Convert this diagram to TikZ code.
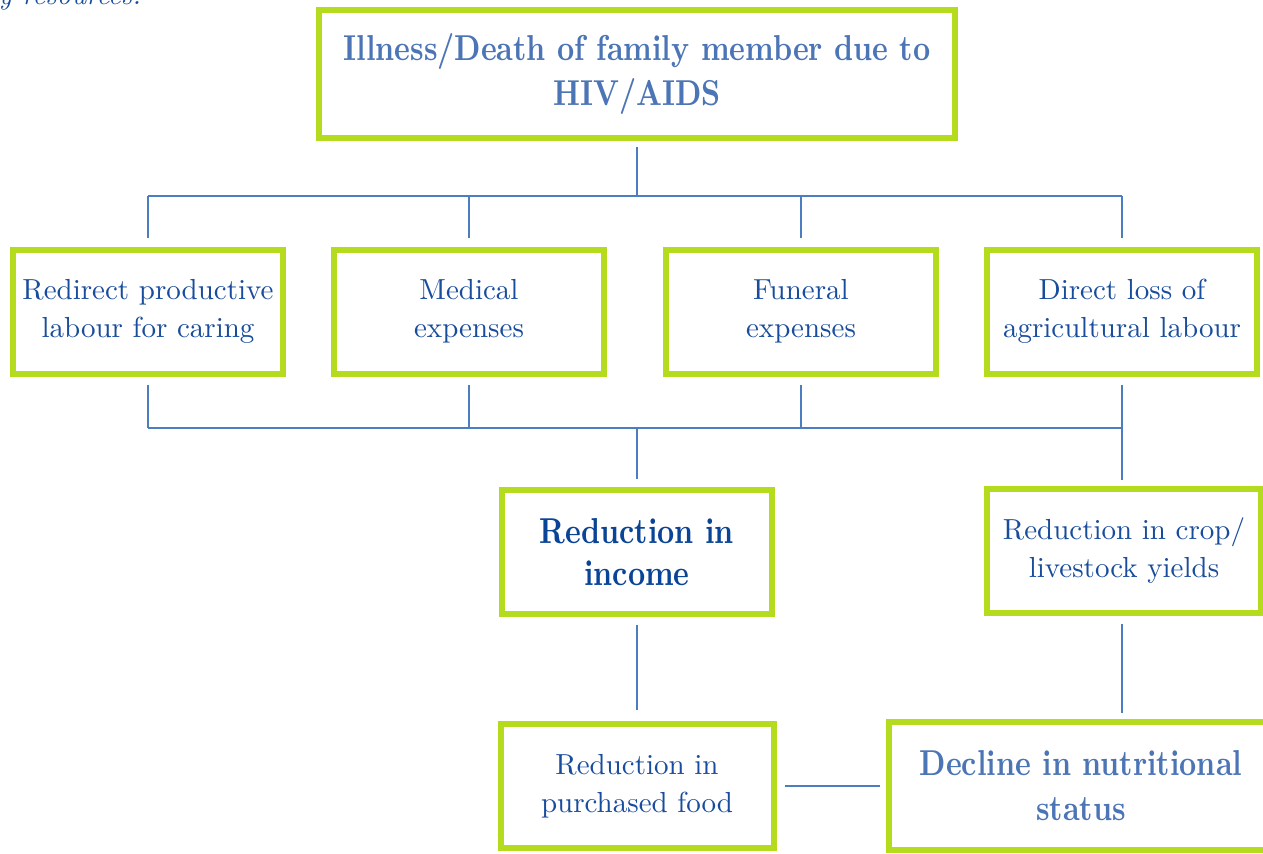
\documentclass[tikz,border=0pt]{standalone}
\usepackage{fontspec}
\setmainfont{lmroman10-regular.otf}[BoldFont=lmroman10-bold.otf, ItalicFont=lmroman10-italic.otf]
\newfontfamily\condbold{lmroman10-bold.otf}[FakeStretch=0.83]
\usepackage{tikz}
\usetikzlibrary{calc, positioning}
\definecolor{limeFrame}{RGB}{181,219,30}
\definecolor{linkBlue}{RGB}{74,126,192}
\definecolor{headBlue}{RGB}{76,117,182}
\definecolor{textBlue}{RGB}{24,76,156}
\definecolor{deepBlue}{RGB}{10,68,150}
\tikzset{
  box/.style={draw=limeFrame, line width=3pt, fill=white, align=center, inner sep=0pt,
    minimum width=135pt, minimum height=62pt, text=textBlue,
    font=\fontsize{14.5}{19}\selectfont},
  bigbox/.style={box, text=headBlue, font=\condbold\fontsize{18}{22.5}\selectfont},
  link/.style={draw=linkBlue, line width=1.1pt},
}

\begin{document}
\begin{tikzpicture}[x=0.5pt, y=-0.5pt]

  \useasboundingbox (0,0) rectangle (1263,853);

  \node[anchor=base west, inner sep=0pt, text=textBlue, font=\itshape\fontsize{14}{17}\selectfont] (note) at (-2,4) {y resources.};

  \node[bigbox, minimum width=318pt, minimum height=64pt] (cause) at (637,74) {Illness/Death of family member due to\\HIV/AIDS};

  \node[box] (care) at (148,311.5) {Redirect productive\\labour for caring};
  \node[box] (medical) at (469,311.5) {Medical\\expenses};
  \node[box] (funeral) at (801,311.5) {Funeral\\expenses};
  \node[box] (loss) at (1122,311.5) {Direct loss of\\agricultural labour};

  \node[bigbox, text=deepBlue, font=\condbold\fontsize{18}{21}\selectfont] (income) at (637,552) {Reduction in\\income};
  \node[box, minimum width=137pt] (crop) at (1124,550.5) {Reduction in crop/\\livestock yields};

  \node[box, minimum width=136.5pt] (purchased) at (637,786) {Reduction in\\purchased food};
  \node[bigbox, minimum width=192pt, minimum height=64pt] (decline) at (1081,786) {Decline in nutritional\\status};

  \coordinate (busTop) at (637,196);
  \coordinate (busLow) at (637,428);

  % upper fork
  \draw[link, shorten <=3pt] (cause) -- (busTop);
  \draw[link] (busTop -| care) -- (busTop -| loss);
  \foreach \n in {care, medical, funeral, loss}
    \draw[link, shorten >=4.5pt] (busTop -| \n) -- (\n);

  % lower fork
  \foreach \n in {care, medical, funeral, loss}
    \draw[link, shorten <=4pt] (\n) -- (\n |- busLow);
  \draw[link] (care |- busLow) -- (loss |- busLow);
  \draw[link, shorten >=4pt] (busLow) -- (income);
  \draw[link, shorten >=3pt] (loss |- busLow) -- (loss |- crop.north);

  \draw[link, shorten <=4pt, shorten >=5.5pt] (income) -- (purchased);
  \draw[link, shorten <=4pt, shorten >=3pt] (loss |- crop.south) -- (loss |- decline.north);
  \draw[link, shorten <=4pt, shorten >=3pt] (purchased) -- (decline);

\end{tikzpicture}
\end{document}
